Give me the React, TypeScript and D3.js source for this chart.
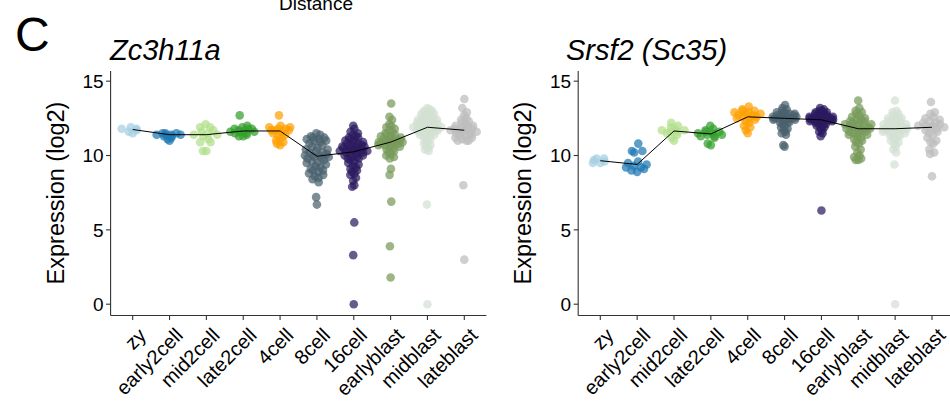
import React from 'react';
import * as d3 from 'd3';

const stages = ['zy', 'early2cell', 'mid2cell', 'late2cell', '4cell', '8cell', '16cell', 'earlyblast', 'midblast', 'lateblast'];
const stageColors = ['#a6cee3', '#1f78b4', '#b2df8a', '#33a02c', '#ff9f00', '#4a616e', '#2d1b60', '#779a5a', '#d3e1d3', '#bdbdbd'];
const yTicks = [0, 5, 10, 15];

// Zc3h11a expression per stage (log2)
const zcZy = [11.9, 11.8, 11.6, 11.5, 11.7, 11.8];
const zcEarly2 = [11.5, 11.4, 11.4, 11.3, 11.5, 11.2, 11.1, 11.0, 11.4, 11.3, 11.5, 11.4];
const zcMid2 = [12.1, 11.9, 11.9, 11.7, 11.6, 11.5, 11.4, 11.4, 11.3, 11.1, 10.9, 10.9, 10.3, 10.3];
const zcLate2 = [12.7, 12.0, 11.9, 11.8, 11.8, 11.7, 11.7, 11.6, 11.6, 11.5, 11.5, 11.4, 11.3, 11.3, 11.8, 11.6];
const zc4cell = [12.7, 12.0, 11.9, 11.9, 11.8, 11.8, 11.7, 11.7, 11.6, 11.5, 11.4, 11.3, 11.2, 11.0, 10.9, 10.8, 10.7, 11.7];
const zc8cell = [11.5, 11.4, 11.3, 11.2, 11.2, 11.1, 11.1, 11.0, 11.0, 10.9, 10.8, 10.7, 10.6, 10.5, 10.4, 10.4, 10.3, 10.2, 10.2, 10.1, 10.0, 10.0, 10.0, 9.9, 9.9, 9.8, 9.8, 9.7, 9.6, 9.5, 9.5, 9.4, 9.3, 9.2, 9.1, 9.0, 9.0, 8.9, 8.8, 8.7, 8.6, 8.5, 8.4, 8.2, 7.2, 6.7];
const zc16cell = [12.0, 11.8, 11.6, 11.5, 11.4, 11.3, 11.2, 11.2, 11.1, 11.0, 11.0, 10.9, 10.9, 10.8, 10.8, 10.7, 10.7, 10.6, 10.6, 10.6, 10.5, 10.5, 10.5, 10.4, 10.4, 10.4, 10.3, 10.3, 10.3, 10.2, 10.2, 10.2, 10.1, 10.1, 10.0, 10.0, 9.9, 9.9, 9.8, 9.8, 9.7, 9.6, 9.5, 9.4, 9.3, 9.2, 9.1, 9.0, 8.9, 8.8, 8.7, 8.5, 8.3, 8.0, 7.9, 5.5, 3.3, 0.0];
const zcEarlyBlast = [13.5, 12.6, 12.4, 12.1, 12.0, 11.9, 11.8, 11.7, 11.6, 11.5, 11.4, 11.4, 11.3, 11.3, 11.2, 11.2, 11.1, 11.1, 11.0, 11.0, 11.0, 10.9, 10.9, 10.9, 10.8, 10.8, 10.8, 10.7, 10.7, 10.7, 10.6, 10.6, 10.5, 10.4, 10.3, 10.2, 10.1, 10.0, 9.9, 9.8, 9.1, 8.7, 6.9, 3.9, 1.8];
const zcMidBlast = [13.2, 13.1, 13.0, 13.0, 12.9, 12.9, 12.8, 12.8, 12.7, 12.7, 12.6, 12.6, 12.5, 12.5, 12.4, 12.4, 12.4, 12.3, 12.3, 12.3, 12.2, 12.2, 12.2, 12.1, 12.1, 12.1, 12.0, 12.0, 12.0, 12.0, 11.9, 11.9, 11.9, 11.9, 11.8, 11.8, 11.8, 11.8, 11.7, 11.7, 11.7, 11.6, 11.6, 11.6, 11.5, 11.5, 11.4, 11.4, 11.3, 11.3, 11.2, 11.1, 11.0, 10.9, 10.8, 10.7, 10.6, 10.5, 10.4, 10.3, 6.7, 0.0];
const zcLateBlast = [13.8, 13.2, 12.9, 12.7, 12.5, 12.4, 12.3, 12.2, 12.1, 12.0, 12.0, 11.9, 11.9, 11.8, 11.8, 11.7, 11.7, 11.7, 11.6, 11.6, 11.5, 11.5, 11.4, 11.4, 11.3, 11.2, 11.2, 11.1, 11.0, 11.0, 11.0, 8.0, 3.0];

// Srsf2 (Sc35) expression per stage (log2)
const srZy = [9.8, 9.8, 9.7, 9.6, 9.5, 9.5];
const srEarly2 = [10.8, 10.3, 10.3, 10.2, 9.6, 9.5, 9.4, 9.3, 9.2, 9.2, 9.1, 9.0, 8.9];
const srMid2 = [12.2, 12.0, 11.9, 11.8, 11.7, 11.7, 11.6, 11.6, 11.5, 11.4, 11.2, 11.0];
const srLate2 = [12.0, 11.8, 11.7, 11.6, 11.6, 11.5, 11.5, 11.4, 11.4, 11.3, 11.3, 11.2, 10.8, 10.7];
const sr4cell = [13.3, 13.1, 13.0, 13.0, 12.9, 12.9, 12.8, 12.8, 12.7, 12.7, 12.6, 12.6, 12.5, 12.5, 12.4, 12.3, 12.2, 12.0, 11.9, 11.7, 11.5];
const sr8cell = [13.4, 13.2, 13.1, 13.0, 12.9, 12.9, 12.8, 12.8, 12.8, 12.7, 12.7, 12.7, 12.6, 12.6, 12.6, 12.6, 12.5, 12.5, 12.5, 12.5, 12.4, 12.4, 12.4, 12.3, 12.3, 12.2, 12.2, 12.1, 12.0, 11.9, 11.8, 11.7, 11.6, 11.5, 11.4, 10.7, 10.6];
const sr16cell = [13.2, 13.1, 13.0, 13.0, 12.9, 12.9, 12.8, 12.8, 12.8, 12.7, 12.7, 12.7, 12.6, 12.6, 12.6, 12.6, 12.5, 12.5, 12.5, 12.5, 12.5, 12.4, 12.4, 12.4, 12.4, 12.4, 12.3, 12.3, 12.3, 12.3, 12.2, 12.2, 12.2, 12.1, 12.1, 12.0, 12.0, 11.9, 11.8, 11.7, 11.6, 11.5, 11.3, 6.3];
const srEarlyBlast = [13.7, 13.2, 13.0, 12.9, 12.8, 12.7, 12.6, 12.5, 12.4, 12.4, 12.3, 12.3, 12.2, 12.2, 12.1, 12.1, 12.0, 12.0, 12.0, 11.9, 11.9, 11.8, 11.8, 11.8, 11.7, 11.7, 11.6, 11.6, 11.5, 11.5, 11.4, 11.4, 11.3, 11.2, 11.1, 11.0, 10.9, 10.8, 10.6, 10.4, 10.2, 10.0, 9.9, 9.8, 9.7, 9.7];
const srMidBlast = [13.7, 13.0, 12.9, 12.8, 12.7, 12.6, 12.5, 12.5, 12.4, 12.4, 12.3, 12.3, 12.2, 12.2, 12.1, 12.1, 12.0, 12.0, 12.0, 11.9, 11.9, 11.9, 11.8, 11.8, 11.8, 11.7, 11.7, 11.7, 11.6, 11.6, 11.6, 11.5, 11.5, 11.4, 11.4, 11.3, 11.2, 11.1, 11.0, 10.9, 10.8, 10.6, 10.4, 10.2, 9.4, 0.0];
const srLateBlast = [13.6, 12.9, 12.8, 12.6, 12.5, 12.4, 12.3, 12.2, 12.2, 12.1, 12.0, 12.0, 12.0, 11.9, 11.9, 11.8, 11.7, 11.6, 11.5, 11.4, 11.2, 11.0, 10.9, 10.8, 10.4, 10.2, 10.1, 8.6];

const zcGroups = [zcZy, zcEarly2, zcMid2, zcLate2, zc4cell, zc8cell, zc16cell, zcEarlyBlast, zcMidBlast, zcLateBlast];
const srGroups = [srZy, srEarly2, srMid2, srLate2, sr4cell, sr8cell, sr16cell, srEarlyBlast, srMidBlast, srLateBlast];

const font = '"Liberation Sans", Arial, Helvetica, sans-serif';
const R = 4.3;

const y = d3.scaleLinear().domain([-0.76, 15.65]).range([315.5, 71.5]);

// van der Corput sequence, base 2
function vdc(n: number) {
  const out: number[] = [];
  for (let i = 1; i <= n; i++) {
    let k = i, f = 0.5, v = 0;
    while (k > 0) { v += f * (k % 2); k = Math.floor(k / 2); f /= 2; }
    out.push(v);
  }
  return out;
}

// quasirandom offsets (like ggbeeswarm::geom_quasirandom), in px
function quasi(values: number[], halfWidth: number) {
  const n = values.length;
  const sd = d3.deviation(values) || 0.1;
  const sorted = values.slice().sort(d3.ascending);
  const iqr = (d3.quantileSorted(sorted, 0.75)! - d3.quantileSorted(sorted, 0.25)!) / 1.34;
  let bw = 0.9 * Math.min(sd, iqr > 0 ? iqr : sd) * Math.pow(n, -0.2);
  bw = Math.max(bw * 0.5, 0.03);
  const kde = (v: number) => d3.mean(values, u => Math.exp(-0.5 * ((v - u) / bw) ** 2)) as number;
  const lo = sorted[0] - 3 * bw, hi = sorted[n - 1] + 3 * bw;
  const maxD = d3.max(d3.range(512).map(i => kde(lo + (hi - lo) * i / 511))) as number;
  const seq = vdc(n);
  const ranks = d3.range(n).sort((a, b) => values[a] - values[b] || a - b);
  const out = new Array(n).fill(0);
  ranks.forEach((idx, r) => {
    out[idx] = (seq[r] - 0.5) * 2 * halfWidth * (kde(values[idx]) / maxD);
  });
  return out;
}

const Panel = ({ groups, x0, x1, title, titleX }: { groups: number[][]; x0: number; x1: number; title: string; titleX: number }) => {
  const x = d3.scalePoint<string>().domain(stages).range([x0, x1]);
  const step = x.step();
  const left = x0 - 0.6 * step;
  const right = x1 + 0.6 * step;
  const medians = groups.map(g => d3.median(g) as number);
  const line = d3.line<number>().x((_, i) => x(stages[i]) as number).y(d => y(d));

  return (
    <g>
      <text x={titleX} y={60} fontSize={29} fontStyle="italic" fontFamily={font}>{title}</text>
      <text transform={`translate(${left - 47},${193}) rotate(-90)`} textAnchor="middle" fontSize={23.5} fontFamily={font}>Expression (log2)</text>
      {groups.map((g, gi) => {
        const offs = quasi(g, 0.4 * step);
        const cx = x(stages[gi]) as number;
        return (
          <g key={gi}>
            {g.map((v, i) => (
              <circle key={i} cx={cx + offs[i]} cy={y(v)} r={R} fill={stageColors[gi]} fillOpacity={0.72} />
            ))}
          </g>
        );
      })}
      <path d={line(medians) || ''} fill="none" stroke="#000" strokeWidth={1} />
      <line x1={left} x2={left} y1={71} y2={315.5} stroke="#333" strokeWidth={1.1} />
      <line x1={left} x2={right} y1={315.5} y2={315.5} stroke="#333" strokeWidth={1.1} />
      {yTicks.map(t => (
        <g key={t}>
          <line x1={left - 4.5} x2={left} y1={y(t)} y2={y(t)} stroke="#333" strokeWidth={1.1} />
          <text x={left - 7} y={y(t)} dy="0.36em" textAnchor="end" fontSize={19} fontFamily={font}>{t}</text>
        </g>
      ))}
      {stages.map(s => {
        const tx = x(s) as number;
        return (
          <g key={s}>
            <line x1={tx} x2={tx} y1={315.5} y2={320} stroke="#333" strokeWidth={1.1} />
            <text transform={`translate(${tx + 7.5},${329.5}) rotate(-45)`} dy="0.5em" textAnchor="end" fontSize={20} fontFamily={font}>{s}</text>
          </g>
        );
      })}
    </g>
  );
};

export default function App() {
  return (
    <svg width={950} height={402} style={{ position: 'absolute', left: 0, top: 0, background: '#fff' }}>
      <text x={316} y={9.5} textAnchor="middle" fontSize={19} fontFamily={font}>Distance</text>
      <text x={15} y={51} fontSize={48} fontFamily={font}>C</text>
      <Panel groups={zcGroups} x0={132.7} x1={464.3} title="Zc3h11a" titleX={110} />
      <Panel groups={srGroups} x0={600.3} x1={932} title="Srsf2 (Sc35)" titleX={566} />
    </svg>
  );
}
